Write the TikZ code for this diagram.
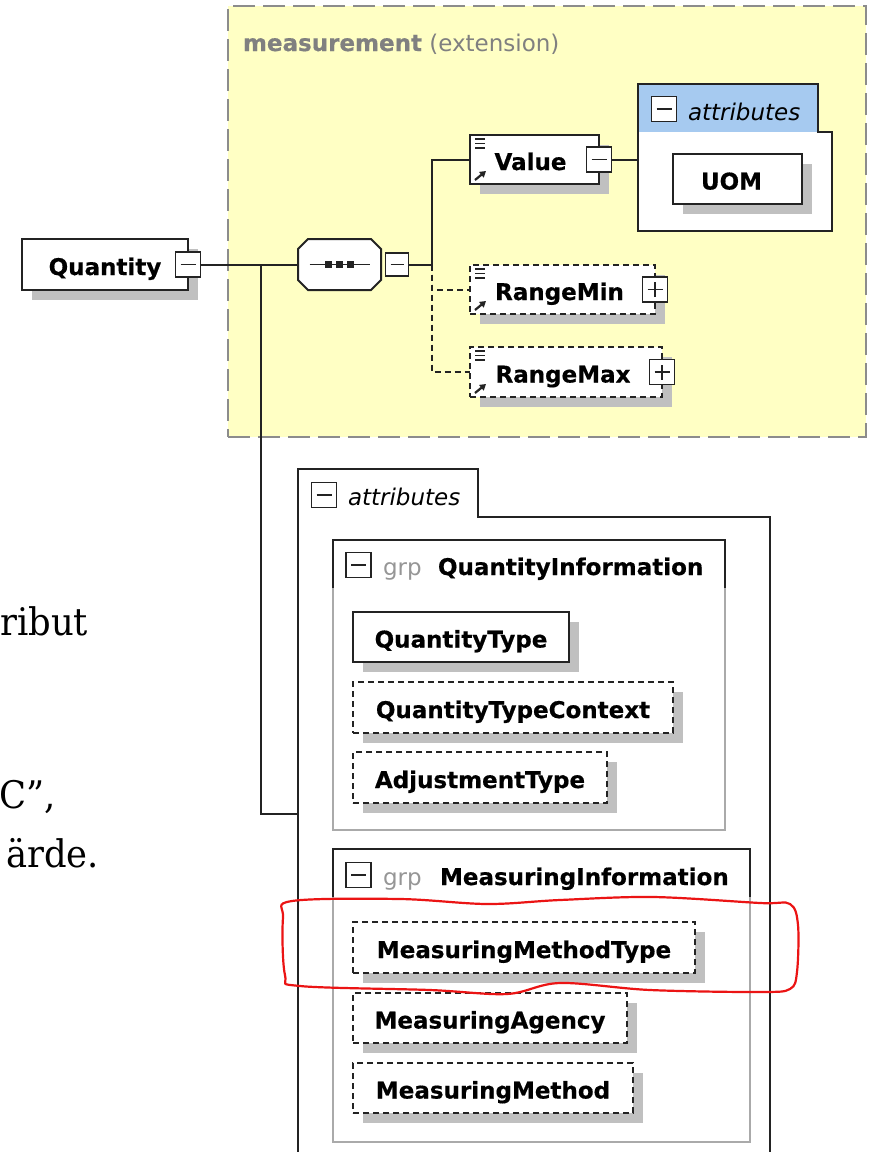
\documentclass[tikz,border=0pt]{standalone}
\usepackage{fontspec}
\setmainfont{DejaVu Sans}[BoldFeatures={FakeBold=0.5}]
\newfontfamily\seriffont[FakeStretch=0.93]{DejaVu Serif}
\usetikzlibrary{shadows,arrows.meta}
\definecolor{yellowbg}{RGB}{255,255,196}
\definecolor{dashgray}{RGB}{140,140,140}
\definecolor{tabblue}{RGB}{166,202,240}
\definecolor{shadowc}{RGB}{192,192,192}
\definecolor{boxline}{RGB}{35,35,35}
\definecolor{grpgray}{RGB}{170,170,170}
\definecolor{grptext}{RGB}{150,150,150}
\definecolor{labelgray}{RGB}{128,128,128}
\definecolor{loopred}{RGB}{235,20,20}
\newcommand\elicons[1]{%
  \draw[line width=1.7pt, boxline]
    ([shift={(5,4)}]#1.north west) -- ++(10,0)
    ([shift={(5,8.5)}]#1.north west) -- ++(10,0)
    ([shift={(5,13)}]#1.north west) -- ++(10,0);
  \draw[line width=2.2pt, boxline, -{Triangle[length=6pt,width=7pt]}]
    ([shift={(5,-4)}]#1.south west) -- ++(11,-9);
}
\begin{document}
\begin{tikzpicture}[x=1pt,y=-1pt,
  every node/.style={inner sep=0pt, outer sep=0pt},
  bigfont/.style={font=\fontsize{23}{27}\selectfont},
  shd/.style={drop shadow={shadow xshift=10pt,shadow yshift=-10pt,opacity=1,fill=shadowc}},
  elem/.style={draw=boxline, line width=2pt, fill=white, font=\fontsize{23}{27}\selectfont\bfseries,
    text height=21pt, text depth=0pt, shd},
  opt/.style={dash pattern=on 6pt off 4pt},
  minus/.style={draw=boxline, line width=1.8pt, fill=white, minimum size=25pt,
    path picture={\draw[line width=1.8pt,boxline] ([xshift=5pt]path picture bounding box.west) -- ([xshift=-5pt]path picture bounding box.east);}},
  plus/.style={draw=boxline, line width=1.8pt, fill=white, minimum size=25pt,
    path picture={\draw[line width=1.8pt,boxline] ([xshift=5pt]path picture bounding box.west) -- ([xshift=-5pt]path picture bounding box.east)
      ([yshift=5pt]path picture bounding box.south) -- ([yshift=-5pt]path picture bounding box.north);}},
  conn/.style={draw=boxline, line width=2pt},
  grp/.style={draw=grpgray, line width=2pt, fill=white},
  attrlabel/.style={anchor=base west, font=\fontsize{23}{27}\selectfont\itshape},
  bodytext/.style={anchor=base east, font=\seriffont\fontsize{38}{44}\selectfont},
]
\useasboundingbox (0,0) rectangle (871,1152);

% extension container
\node[draw=dashgray, fill=yellowbg, line width=2pt, dash pattern=on 22pt off 8pt,
      minimum width=638pt, minimum height=431pt] (ext) at (547,221.5) {};
\node[anchor=base west, bigfont, text=labelgray] (extlabel) at (243,51) {\textbf{measurement} (extension)};

% Quantity
\node[elem, minimum width=166pt, minimum height=51pt] (quantity) at (105,264.5) {Quantity};
\node[minus] (qtog) at (quantity.east) {};

% sequence compositor
\node[minimum width=83pt, minimum height=51pt] (seq) at (339.5,264.5) {};
\fill[shadowc, shift={(10,10)}]
  ([shift={(10,0)}]seq.north west) -- ([shift={(-10,0)}]seq.north east) -- ([shift={(0,10)}]seq.north east)
  -- ([shift={(0,-10)}]seq.south east) -- ([shift={(-10,0)}]seq.south east) -- ([shift={(10,0)}]seq.south west)
  -- ([shift={(0,-10)}]seq.south west) -- ([shift={(0,10)}]seq.north west) -- cycle;
\draw[boxline, line width=2pt, fill=white]
  ([shift={(10,0)}]seq.north west) -- ([shift={(-10,0)}]seq.north east) -- ([shift={(0,10)}]seq.north east)
  -- ([shift={(0,-10)}]seq.south east) -- ([shift={(-10,0)}]seq.south east) -- ([shift={(10,0)}]seq.south west)
  -- ([shift={(0,-10)}]seq.south west) -- ([shift={(0,10)}]seq.north west) -- cycle;
\draw[boxline, line width=1.8pt] ([shift={(-30,0)}]seq.center) -- ([shift={(30,0)}]seq.center);
\foreach \dx in {-11,0,11}
  \fill[boxline] ([shift={(\dx-3.5,-3.5)}]seq.center) rectangle ([shift={(\dx+3.5,3.5)}]seq.center);
\node[minus, minimum size=23pt] (seqtog) at (397,264.5) {};

% children of sequence
\node[elem, minimum width=129pt, minimum height=49pt] (value) at (534.5,159.5) {\hspace*{-8pt}Value};
\node[minus] (vtog) at (value.east) {};
\node[elem, opt, minimum width=185pt, minimum height=49pt] (rmin) at (562.5,289.5) {\hspace*{-6pt}RangeMin};
\node[plus] (rmintog) at (rmin.east) {};
\node[elem, opt, minimum width=192pt, minimum height=50pt] (rmax) at (566,372) {\hspace*{-6pt}RangeMax};
\node[plus] (rmaxtog) at (rmax.east) {};
\elicons{value}
\elicons{rmin}
\elicons{rmax}

% attributes of Value
\fill[white] (638,84) -- (818,84) -- (818,132) -- (832,132) -- (832,231) -- (638,231) -- cycle;
\fill[tabblue] (638,84) rectangle (818,132);
\draw[boxline, line width=2pt] (638,84) -- (818,84) -- (818,132) -- (832,132) -- (832,231) -- (638,231) -- cycle;
\node[minimum width=194pt, minimum height=99pt] (attr1) at (735,181.5) {};
\node[minus] (a1tog) at (664,109) {};
\node[attrlabel] (a1label) at (688,120) {attributes};
\node[elem, minimum width=129pt, minimum height=50pt] (uom) at (737.5,179) {UOM\hspace*{12pt}};

% connectors
\coordinate (j1) at (261,264.5);
\coordinate (j2) at (432,264.5);
\coordinate (a2in) at (298,814);
\draw[conn] (qtog.east) -- (seq.west);
\draw[conn] (seqtog.east) -- (j2) |- (value.west);
\draw[conn, opt] (j2) |- (rmin.west);
\draw[conn, opt] (j2) |- (rmax.west);
\draw[conn] (vtog.east) -- (vtog.east -| attr1.west);

% attributes of Quantity
\fill[white] (298,469) -- (478,469) -- (478,517) -- (770,517) -- (770,1152) -- (298,1152) -- cycle;
\draw[boxline, line width=2pt] (298,1152) -- (298,469) -- (478,469) -- (478,517) -- (770,517) -- (770,1152);
\node[minus] (a2tog) at (324,495) {};
\node[attrlabel] (a2label) at (348,505) {attributes};
\draw[conn] (j1) |- (a2in);

% group QuantityInformation
\node[grp, minimum width=392pt, minimum height=290pt] (g1) at (529,685) {};
\draw[boxline, line width=2pt] ([shift={(0,48)}]g1.north west) -- (g1.north west) -- (g1.north east) -- ([shift={(0,48)}]g1.north east);
\node[minus] (g1tog) at (358.5,565) {};
\node[anchor=base west, bigfont, text=grptext] (g1grp) at (383,575) {grp};
\node[anchor=base west, font=\fontsize{23}{27}\selectfont\bfseries] (g1name) at (438,575) {QuantityInformation};
\node[elem, minimum width=216pt, minimum height=50pt] (qtype) at (461,637) {QuantityType};
\node[elem, opt, minimum width=320pt, minimum height=51pt] (qtctx) at (513,707.5) {QuantityTypeContext};
\node[elem, opt, minimum width=254pt, minimum height=51pt] (adj) at (480,777.5) {AdjustmentType};

% group MeasuringInformation
\node[grp, minimum width=417pt, minimum height=293pt] (g2) at (541.5,995.5) {};
\draw[boxline, line width=2pt] ([shift={(0,48)}]g2.north west) -- (g2.north west) -- (g2.north east) -- ([shift={(0,48)}]g2.north east);
\node[minus] (g2tog) at (358.5,875) {};
\node[anchor=base west, bigfont, text=grptext] (g2grp) at (383,885) {grp};
\node[anchor=base west, font=\fontsize{23}{27}\selectfont\bfseries] (g2name) at (440,885) {MeasuringInformation};
\node[elem, opt, minimum width=342pt, minimum height=51pt] (mmt) at (524,947.5) {MeasuringMethodType};
\node[elem, opt, minimum width=274pt, minimum height=50pt] (mag) at (490,1018) {MeasuringAgency};
\node[elem, opt, minimum width=280pt, minimum height=50pt] (mm) at (493,1088) {MeasuringMethod};

% red hand-drawn loop
\draw[loopred, line width=2.2pt] plot[smooth cycle, tension=0.55] coordinates {
  (292,901) (400,899) (487,904) (560,900) (653,897) (760,903) (790,904)
  (798,925) (797,972) (790,989) (760,992) (650,990) (560,983) (507,994)
  (430,990) (300,986) (285,975) (283,918)};

% cut-off body text on the left
\node[bodytext] (t1) at (88,635) {ribut};
\node[bodytext] (t2) at (56,808) {C”,};
\node[bodytext] (t3) at (99,867) {ärde.};
\end{tikzpicture}
\end{document}
